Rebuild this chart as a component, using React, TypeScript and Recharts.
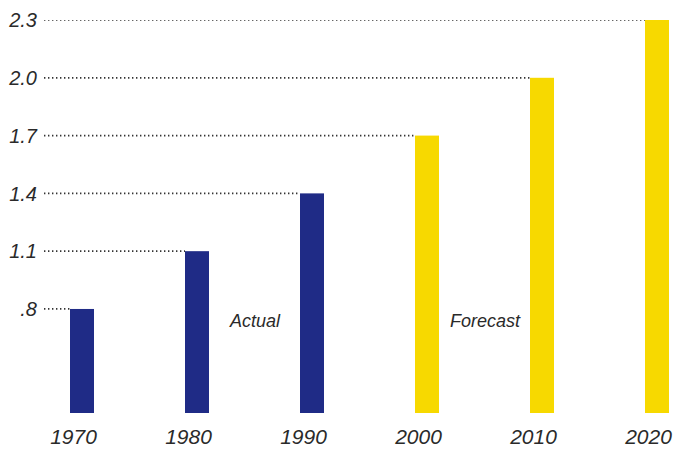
import React from 'react';
import { BarChart, Bar, XAxis, YAxis, Cell, ReferenceDot } from 'recharts';

// Valorile
const years = [1970, 1980, 1990, 2000, 2010, 2020];
const values = [0.8, 1.1, 1.4, 1.7, 2.0, 2.3];
const isForecast = [false, false, false, true, true, true];
const yTicks = [0.8, 1.1, 1.4, 1.7, 2.0, 2.3];
const yTickLabels = ['.8', '1.1', '1.4', '1.7', '2.0', '2.3'];

// Etichetele din interiorul graficului
const noteYears = [1985, 2005];
const noteValues = [0.74, 0.74];
const noteTexts = ['Actual', 'Forecast'];

const BLUE = '#1f2b86';
const YELLOW = '#f7d900';
const TEXT = '#2a2a2a';
const FONT = '"Liberation Sans", Arial, Helvetica, sans-serif';
const DOTS_FROM = 44;

const data = years.map((year, i) => ({
    year,
    value: values[i],
    forecast: isForecast[i]
}));

// Bara + linia punctată care pleacă de la etichetă
const BarWithLeader = (props: any) => {
    const { x, y, width, height, fill } = props;
    return (
        <g>
            <line
                x1={DOTS_FROM}
                x2={x}
                y1={y}
                y2={y}
                stroke="#333"
                strokeWidth={1.7}
                strokeDasharray="1.4 2.6"
            />
            <rect x={x} y={y} width={width} height={height} fill={fill} />
        </g>
    );
};

const labelStyle: React.CSSProperties = {
    fontStyle: 'italic',
    fontFamily: FONT,
    fill: TEXT
};

const YTick = (props: any) => {
    const { y, payload } = props;
    const idx = yTicks.indexOf(payload.value);
    return (
        <text x={37} y={y} dy="0.36em" textAnchor="end" fontSize={20} style={labelStyle}>
            {idx >= 0 ? yTickLabels[idx] : payload.value}
        </text>
    );
};

const XTick = (props: any) => {
    const { x, y, payload } = props;
    return (
        <text x={x} y={y} dx={-9} dy="0.71em" textAnchor="middle" fontSize={21} style={labelStyle}>
            {payload.value}
        </text>
    );
};

const App: React.FC = () => {
    return (
        <div style={{ position: 'absolute', left: 0, top: 0, background: '#fff' }}>
            <BarChart
                width={675}
                height={450}
                data={data}
                margin={{ top: 20, right: 6, left: 0, bottom: 0 }}
            >
                <XAxis
                    dataKey="year"
                    type="number"
                    domain={[1967, 2021]}
                    ticks={years}
                    axisLine={false}
                    tickLine={false}
                    tickSize={0}
                    tickMargin={16}
                    height={37}
                    tick={<XTick />}
                />
                <YAxis
                    type="number"
                    domain={[0.26, 2.3]}
                    ticks={yTicks}
                    allowDataOverflow
                    axisLine={false}
                    tickLine={false}
                    width={48}
                    tick={<YTick />}
                />
                <Bar dataKey="value" barSize={24} shape={<BarWithLeader />} isAnimationActive={false}>
                    {data.map((d, i) => (
                        <Cell key={`c-${i}`} fill={d.forecast ? YELLOW : BLUE} />
                    ))}
                </Bar>
                {noteTexts.map((t, i) => (
                    <ReferenceDot
                        key={t}
                        x={noteYears[i]}
                        y={noteValues[i]}
                        r={0}
                        stroke="none"
                        label={{
                            value: t,
                            position: 'center',
                            fontSize: 18,
                            fontStyle: 'italic',
                            fontFamily: FONT,
                            fill: TEXT
                        }}
                    />
                ))}
            </BarChart>
        </div>
    );
};

export default App;
